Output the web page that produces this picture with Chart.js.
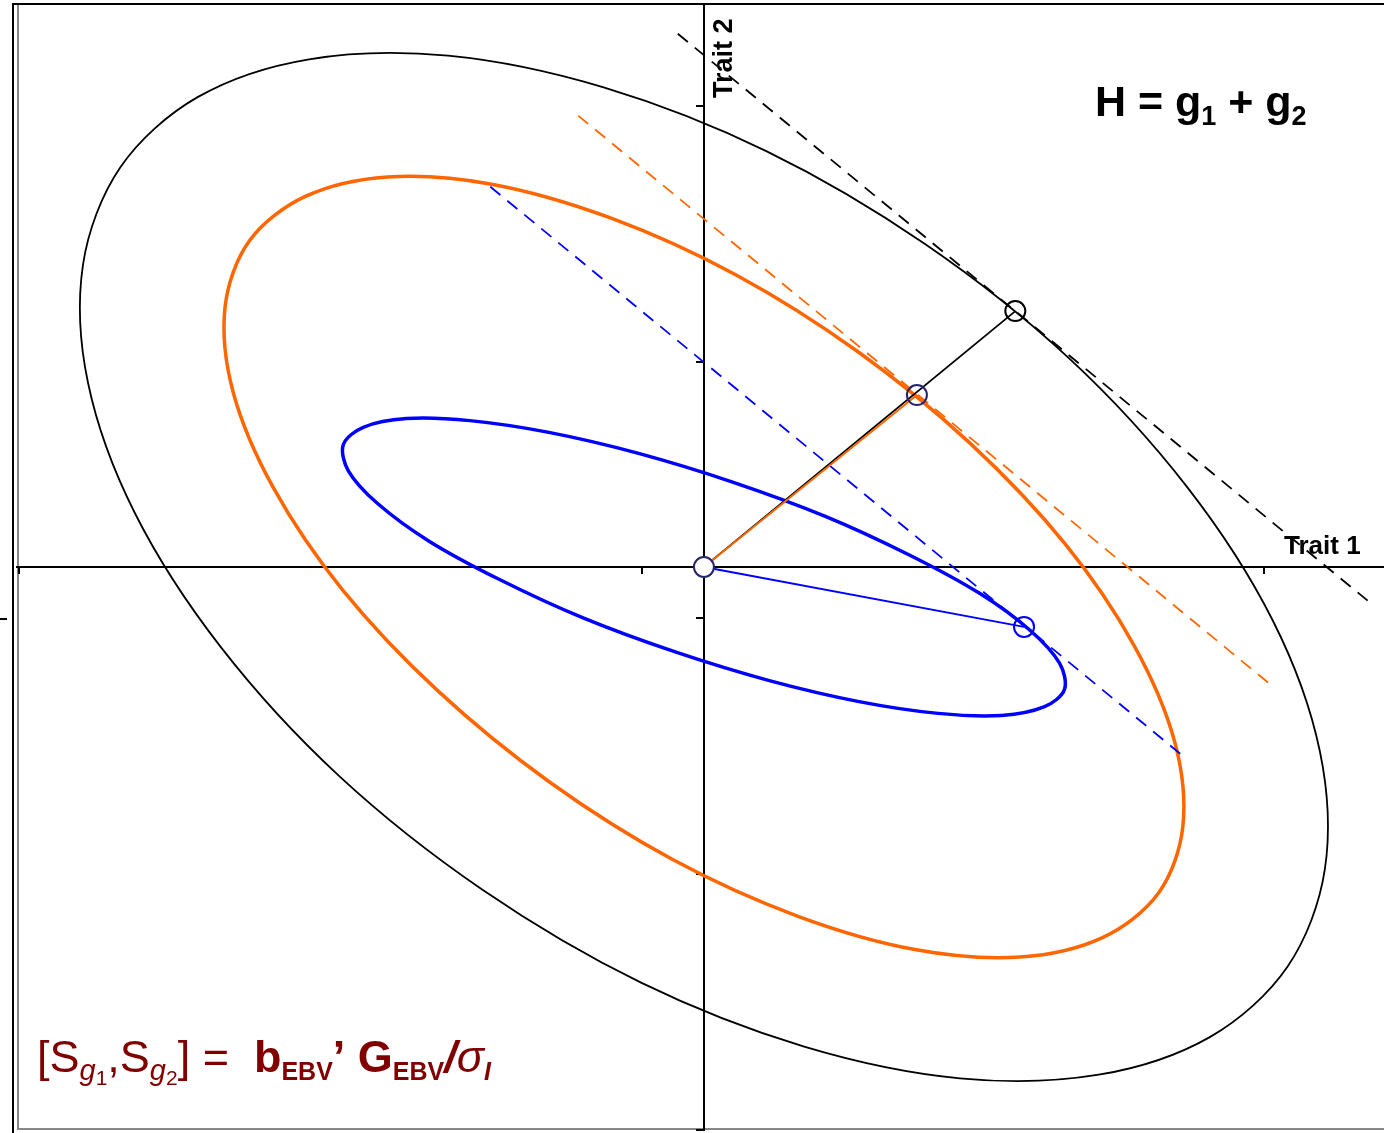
<!DOCTYPE html>
<html>
<head>
<meta charset="utf-8">
<script src="https://cdn.jsdelivr.net/npm/chart.js@4.4.1/dist/chart.umd.min.js"></script>
<style>
  html, body { margin: 0; padding: 0; background: #fff; overflow: hidden; }
  .ln { position: absolute; }
  #box { position: absolute; left: 0; top: 0; width: 1384px; height: 1133px; }
</style>
</head>
<body>
<!-- frame lines around the plot -->
<div class="ln" style="left:12px;top:3px;width:2px;height:1130px;background:#000"></div>
<div class="ln" style="left:12px;top:3px;width:1372px;height:2px;background:#000"></div>
<div class="ln" style="left:17px;top:5px;width:1.5px;height:1125px;background:#888"></div>
<div class="ln" style="left:17px;top:1128px;width:1367px;height:2px;background:#888"></div>
<div class="ln" style="left:0;top:618px;width:7px;height:2px;background:#000"></div>
<div id="box"><canvas id="selGraph"></canvas></div>
<script>
  // outlines, x = trait 1, y = trait 2
  const ellipseH = [[0.937,-0.781],[0.997,-0.591],[0.989,-0.360],[0.914,-0.106],[0.776,0.156],[0.586,0.408],
    [0.355,0.631],[0.101,0.812],[-0.161,0.937],[-0.411,0.999],[-0.634,0.992],[-0.813,0.918],
    [-0.937,0.781],[-0.997,0.591],[-0.989,0.360],[-0.914,0.106],[-0.776,-0.156],[-0.586,-0.408],
    [-0.355,-0.631],[-0.101,-0.812],[0.161,-0.937],[0.411,-0.999],[0.634,-0.992],[0.813,-0.918]];
  const ellipseIndex = [[0.730,-0.637],[0.769,-0.507],[0.756,-0.342],[0.691,-0.154],[0.580,0.045],[0.428,0.241],
    [0.248,0.420],[0.051,0.571],[-0.150,0.682],[-0.341,0.748],[-0.508,0.762],[-0.640,0.724],
    [-0.730,0.637],[-0.769,0.507],[-0.756,0.342],[-0.691,0.154],[-0.580,-0.045],[-0.428,-0.241],
    [-0.248,-0.420],[-0.051,-0.571],[0.150,-0.682],[0.341,-0.748],[0.508,-0.762],[0.640,-0.724]];
  const ellipseEBV = [[0.579,-0.239],[0.571,-0.188],[0.524,-0.124],[0.442,-0.051],[0.329,0.024],[0.195,0.099],
    [0.046,0.166],[-0.105,0.222],[-0.249,0.263],[-0.376,0.286],[-0.478,0.290],[-0.547,0.273],
    [-0.579,0.239],[-0.571,0.188],[-0.524,0.124],[-0.442,0.051],[-0.329,-0.024],[-0.195,-0.099],
    [-0.046,-0.166],[0.105,-0.222],[0.249,-0.263],[0.376,-0.286],[0.478,-0.290],[0.547,-0.273]];

  const origin = [0, 0];
  const respH = [0.5, 0.5];
  const respIndex = [0.342, 0.336];
  const respEBV = [0.514, -0.117];

  const tangentH = [[-0.042, 1.042], [1.066, -0.066]];
  const tangentIndex = [[-0.202, 0.882], [0.909, -0.229]];
  const tangentEBV = [[-0.343, 0.743], [0.769, -0.369]];

  const xTicks = [-1.1, -0.1, 0.9];
  const yTicks = [-1.1, -0.6, -0.1, 0.4, 0.9];

  const orange = '#ff6600';
  const blue = '#0000ff';
  const navy = '#25256e';
  const fam = '"Liberation Sans", Arial, sans-serif';

  // wrap the points so every visible segment gets proper neighbours,
  // the two helper segments at the ends are hidden
  function closeLoop(pts) {
    return pts.slice(-1).concat(pts, pts.slice(0, 2));
  }

  function lineSet(data, color, width, dash, tension) {
    return {
      data: data,
      showLine: true,
      borderColor: color,
      borderWidth: width,
      borderDash: dash || [],
      tension: tension || 0,
      pointRadius: 0,
      fill: false
    };
  }

  function loopSet(pts, color, width) {
    const data = closeLoop(pts);
    const last = data.length - 1;
    const ds = lineSet(data, color, width, null, 0.33);
    ds.segment = {
      borderColor: c => (c.p0DataIndex === 0 || c.p1DataIndex === last) ? 'rgba(0,0,0,0)' : undefined
    };
    return ds;
  }

  function drawRuns(ctx, x, y, runs) {
    runs.forEach(r => {
      ctx.font = r[1] + ' ' + fam;
      ctx.fillText(r[0], x, y + (r[2] || 0));
      x += ctx.measureText(r[0]).width;
    });
  }

  const annotate = {
    id: 'annotate',
    afterDraw(chart) {
      const ctx = chart.ctx;
      ctx.save();
      ctx.textAlign = 'left';
      ctx.textBaseline = 'alphabetic';
      ctx.fillStyle = '#000';
      ctx.font = 'bold 26px ' + fam;
      ctx.fillText('Trait 1', 1284, 554);
      ctx.save();
      ctx.font = 'bold 27px ' + fam;
      ctx.translate(732, 98);
      ctx.rotate(-Math.PI / 2);
      ctx.fillText('Trait 2', 0, 0);
      ctx.restore();

      drawRuns(ctx, 1095, 116, [
        ['H = g', 'bold 43px'], ['1', 'bold 27px', 9], [' + g', 'bold 43px'], ['2', 'bold 27px', 9]
      ]);

      ctx.fillStyle = '#800000';
      drawRuns(ctx, 37, 1072, [
        ['[S', '45px'], ['g', 'italic 29px', 8], ['1', '21px', 13],
        [',S', '45px'], ['g', 'italic 29px', 8], ['2', '21px', 13],
        ['] =  ', '45px'],
        ['b', 'bold 45px'], ['EBV', 'bold 25px', 8], ['\u2019 G', 'bold 45px'], ['EBV', 'bold 25px', 8],
        ['/', 'bold italic 45px'], ['\u03c3', 'italic 45px'], ['I', 'bold italic 25px', 8]
      ]);
      ctx.restore();
    }
  };

  const ctx = document.getElementById('selGraph');

  new Chart(ctx, {
    type: 'scatter',
    data: {
      datasets: [
        {
          data: [origin, respH, respIndex, respEBV],
          pointRadius: 10,
          pointBorderWidth: 2,
          pointBackgroundColor: ['#fff', 'rgba(0,0,0,0)', 'rgba(0,0,0,0)', 'rgba(0,0,0,0)'],
          pointBorderColor: [navy, '#000', navy, blue],
          showLine: false
        },
        lineSet([origin, respIndex], orange, 2),
        lineSet([origin, respH], '#000', 1.8),
        lineSet([origin, respEBV], blue, 1.8),
        lineSet(tangentH, '#000', 1.8, [13, 9]),
        lineSet(tangentIndex, orange, 1.8, [13, 9]),
        lineSet(tangentEBV, blue, 1.8, [13, 9]),
        loopSet(ellipseEBV, blue, 3.5),
        loopSet(ellipseIndex, orange, 3.5),
        loopSet(ellipseH, '#000', 1.8)
      ]
    },
    options: {
      responsive: true,
      maintainAspectRatio: false,
      animation: false,
      layout: { padding: { left: 17, top: 4, right: 0, bottom: 3 }, autoPadding: false },
      plugins: {
        legend: { display: false },
        tooltip: { enabled: false }
      },
      scales: {
        x: {
          type: 'linear',
          min: -1.103,
          max: 1.092,
          position: { y: 0 },
          afterBuildTicks: s => { s.ticks = xTicks.map(v => ({ value: v })); },
          ticks: { display: false },
          grid: { drawOnChartArea: false, drawTicks: true, tickLength: 6, color: '#000', lineWidth: 2 },
          border: { display: true, color: '#000', width: 2 }
        },
        y: {
          type: 'linear',
          min: -1.1,
          max: 1.1,
          position: { x: 0 },
          afterBuildTicks: s => { s.ticks = yTicks.map(v => ({ value: v })); },
          ticks: { display: false },
          grid: { drawOnChartArea: false, drawTicks: true, tickLength: 7, color: '#000', lineWidth: 2 },
          border: { display: true, color: '#000', width: 2 }
        }
      }
    },
    plugins: [annotate]
  });
</script>
</body>
</html>
